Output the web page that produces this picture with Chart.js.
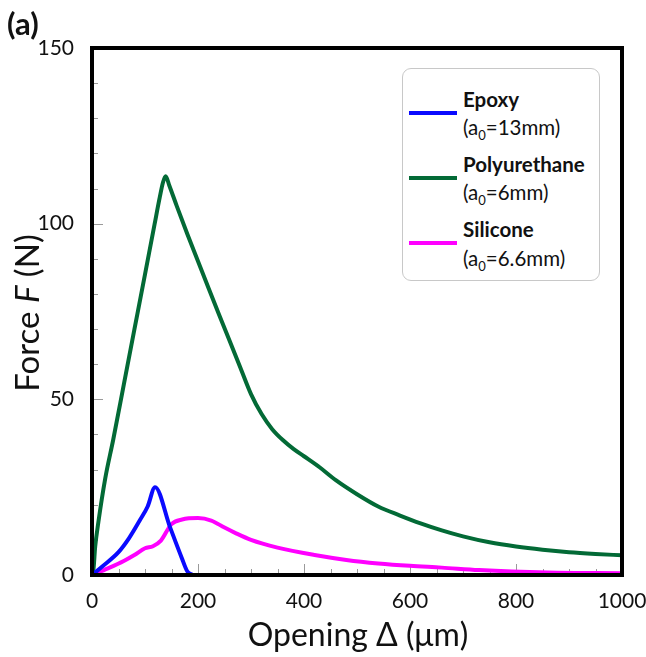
<!DOCTYPE html>
<html><head><meta charset="utf-8">
<script src="https://cdn.jsdelivr.net/npm/chart.js@4"></script>
<style>
body{margin:0;background:#fff;font-family:Lato,"Open Sans",sans-serif;}
#wrap{position:relative;width:646px;height:657px;}
#panel{position:absolute;left:7px;top:4px;font-weight:bold;font-size:31px;color:#111;}
#ytitle{position:absolute;left:26px;top:313px;transform:translate(-50%,-50%) rotate(-90deg);white-space:nowrap;font-size:33px;color:#111;}
#xtitle{position:absolute;left:358px;top:633px;transform:translate(-50%,-50%);white-space:nowrap;font-size:32px;color:#111;}
#legend{position:absolute;left:402px;top:68px;width:198px;height:213px;border:1px solid #c8c8c8;border-radius:9px;box-sizing:border-box;background:#fff;}
.entry{position:absolute;left:0;width:100%;}
.swatch{position:absolute;left:6px;width:48px;height:4px;}
.name{position:absolute;left:60px;font-weight:bold;font-size:20.5px;color:#111;white-space:nowrap;line-height:1.2;}
.sub{position:absolute;left:60px;font-size:20.5px;color:#111;white-space:nowrap;line-height:1.2;}
.sub sub{font-size:13px;line-height:0;}
</style></head>
<body>
<div id="wrap">
<canvas id="c" width="646" height="657"></canvas>
<div id="panel">(a)</div>
<div id="ytitle">Force <i>F</i> (N)</div>
<div id="xtitle">Opening Δ (μm)</div>
<div id="legend"></div>
</div>
<script>
// ---- data ----
const seriesNames = ["Epoxy", "Polyurethane", "Silicone"];
const seriesNotches = ["13mm", "6mm", "6.6mm"];
const seriesColors = ["#0a0aff", "#036a36", "#ff00ff"];

const epoxyX = [0, 20, 50, 70, 90, 105, 119, 147, 169, 180, 190];
const epoxyY = [0, 2.5, 6.5, 10.5, 15.5, 19.5, 25, 13.7, 5, 1, 0];

const polyX = [0, 3, 6, 12, 25, 40, 60, 80, 100, 118, 128, 134, 139, 146, 160, 180, 200, 220, 240, 260, 280, 300, 320, 340, 360, 380, 400, 430, 460, 500, 540, 580, 620, 660, 700, 750, 800, 850, 900, 950, 1000];
const polyY = [0, 2, 8, 15, 27.5, 38.5, 54.2, 69.9, 85.6, 99.8, 107.6, 111.8, 113.5, 110.8, 105, 97, 89.3, 81.6, 74, 66.5, 59, 51.5, 45.8, 41.5, 38.4, 35.9, 33.8, 30.6, 27, 23, 19.5, 17, 14.7, 12.7, 11, 9.3, 8.1, 7.2, 6.5, 6, 5.6];

const siliX = [0, 30, 60, 80, 100, 115, 130, 150, 170, 200, 225, 250, 270, 300, 350, 420, 480, 540, 600, 660, 730, 860, 1000];
const siliY = [0, 1.9, 4, 5.7, 7.6, 8.2, 9.8, 14.5, 15.8, 16.2, 15.5, 13.5, 12, 10, 7.8, 5.7, 4.3, 3.3, 2.6, 2.1, 1.4, 0.7, 0.5];

const xTickValues = [0, 200, 400, 600, 800, 1000];
const yTickValues = [0, 50, 100, 150];
const xMinorStep = 50;
const yMinorStep = 10;

const pairs = (xs, ys) => xs.map((x, i) => ({x: x, y: ys[i]}));
const allX = [epoxyX, polyX, siliX];
const allY = [epoxyY, polyY, siliY];

const datasets = seriesNames.map((n, i) => ({
  label: n,
  data: pairs(allX[i], allY[i]),
  borderColor: seriesColors[i],
  backgroundColor: seriesColors[i],
  borderWidth: 4,
  pointRadius: 0,
  cubicInterpolationMode: 'monotone',
  fill: false
}));

// legend (HTML, built from series arrays)
const lg = document.getElementById('legend');
seriesNames.forEach((n, i) => {
  const e = document.createElement('div');
  e.className = 'entry';
  e.style.top = (17.5 + i * 65.3) + 'px';
  e.innerHTML = '<div class="swatch" style="top:24px;background:' + seriesColors[i] + '"></div>' +
    '<div class="name" style="top:0px">' + n + '</div>' +
    '<div class="sub" style="top:28.5px">(a<sub>0</sub>=' + seriesNotches[i] + ')</div>';
  lg.appendChild(e);
});

const framePlugin = {
  id: 'frame',
  beforeDatasetsDraw(chart) {
    const {ctx, chartArea: a, scales} = chart;
    ctx.save();
    ctx.strokeStyle = '#9a9a9a';
    ctx.lineWidth = 1;
    ctx.beginPath();
    for (let v = 0; v <= 1000; v += xMinorStep) {
      const px = Math.round(scales.x.getPixelForValue(v)) + 0.5;
      const len = xTickValues.includes(v) ? 11 : 6;
      ctx.moveTo(px, a.bottom); ctx.lineTo(px, a.bottom - len);
    }
    for (let v = 0; v <= 150; v += yMinorStep) {
      const py = Math.round(scales.y.getPixelForValue(v)) + 0.5;
      const len = yTickValues.includes(v) ? 11 : 6;
      ctx.moveTo(a.left, py); ctx.lineTo(a.left + len, py);
    }
    ctx.stroke();
    ctx.restore();
  },
  afterDatasetsDraw(chart) {
    const {ctx, chartArea: a} = chart;
    ctx.save();
    ctx.strokeStyle = '#000';
    ctx.lineWidth = 4;
    ctx.strokeRect(a.left, a.top, a.right - a.left, a.bottom - a.top);
    ctx.restore();
  }
};

new Chart(document.getElementById('c'), {
  type: 'line',
  data: {datasets},
  plugins: [framePlugin],
  options: {
    responsive: false,
    devicePixelRatio: 1,
    animation: false,
    layout: {padding: {left: 0, top: 48, right: 24, bottom: 0}},
    plugins: {legend: {display: false}, tooltip: {enabled: false}},
    scales: {
      x: {
        type: 'linear', min: 0, max: 1000,
        afterFit: s => { s.height = 82; s.paddingLeft = 0; s.paddingRight = 0; },
        afterBuildTicks: s => { s.ticks = xTickValues.map(v => ({value: v})); },
        grid: {display: false},
        border: {display: false},
        ticks: {font: {family: 'Lato', size: 21}, color: '#111', padding: 6, maxRotation: 0, callback: v => String(v)}
      },
      y: {
        type: 'linear', min: 0, max: 150,
        afterFit: s => { s.width = 92; s.paddingTop = 0; s.paddingBottom = 0; },
        afterBuildTicks: s => { s.ticks = yTickValues.map(v => ({value: v})); },
        grid: {display: false},
        border: {display: false},
        ticks: {font: {family: 'Lato', size: 21}, color: '#111', padding: 10, callback: v => String(v)}
      }
    }
  }
});
</script>
</body></html>
